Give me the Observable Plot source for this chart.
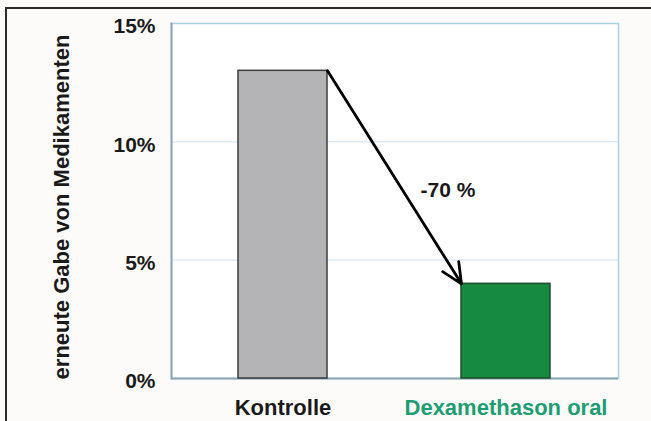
<!DOCTYPE html>
<html><head><meta charset="utf-8">
<script src="https://cdn.jsdelivr.net/npm/d3@7"></script>
<script src="https://cdn.jsdelivr.net/npm/@observablehq/plot@0.6"></script>
<style>
html,body{margin:0;padding:0;background:#fdfbf9;}
#wrap{position:relative;width:651px;height:421px;overflow:hidden;}
#wrap svg{position:absolute;left:0;top:0;}
#border{position:absolute;left:5px;top:7px;width:700px;height:500px;border-left:2px solid #2b2b2b;border-top:2px solid #2b2b2b;pointer-events:none;}
</style></head><body><div id="wrap"></div>
<script>
// data
const categories = ["Kontrolle", "Dexamethason oral"];
const values = [13, 4];
const barFills = ["#b4b4b6", "#178a41"];
const barStrokes = ["#3c3c3c", "#1f4d2c"];
const labelColors = ["#1a1a1a", "#1d9e72"];
const yTicks = [0, 5, 10, 15];
const gridTicks = [5, 10];
const yLabel = "erneute Gabe von Medikamenten";
const changeLabel = "-70 %";

const bars = categories.map((c, i) => ({cat: c, value: values[i], fill: barFills[i], stroke: barStrokes[i]}));
const change = [{from: categories[0], to: categories[1], y1: values[0], y2: values[1], label: changeLabel, ymid: (values[0] + values[1]) / 2}];

const font = "'Liberation Sans', Arial, Helvetica, sans-serif";

const chart = Plot.plot({
  width: 651,
  height: 421,
  marginLeft: 171,
  marginRight: 33,
  marginTop: 23,
  marginBottom: 43,
  style: {background: "transparent", fontFamily: font},
  x: {domain: categories, paddingInner: 0.6, paddingOuter: 0.3},
  y: {domain: [0, 15]},
  marks: [
    Plot.frame({fill: "white"}),
    Plot.ruleY(gridTicks, {stroke: "#d3e8f1", strokeWidth: 1.2}),
    Plot.frame({stroke: "#a7d2e3", strokeWidth: 1.5}),
    Plot.frame({anchor: "left", stroke: "#8ba4b3", strokeWidth: 2}),
    Plot.ruleY([0], {stroke: "#8ba4b3", strokeWidth: 2}),
    Plot.barY(bars, {x: "cat", y: "value", fill: d => d.fill, stroke: d => d.stroke, strokeWidth: 1.5}),
    Plot.arrow(change, {
      x1: "from", x2: "to", y1: "y1", y2: "y2",
      stroke: "#000", strokeWidth: 2.8, headLength: 12, headAngle: 50, bend: 0,
      render: (index, scales, vals, dims, ctx, next) => {
        const bw = scales.x.bandwidth();
        return next(index, scales, {
          ...vals,
          x1: Float64Array.from(vals.x1, v => v + bw / 2),
          x2: Float64Array.from(vals.x2, v => v - bw / 2)
        }, dims, ctx);
      }
    }),
    Plot.text(change, {text: "label", y: "ymid", frameAnchor: "middle", dx: 53, dy: 13, fontSize: 21, fontWeight: "bold", fill: "#1a1a1a"}),
    Plot.axisY(yTicks, {tickFormat: d => d + "%", tickSize: 0, tickPadding: 16, fontSize: 21, fontWeight: "bold", dy: 3, fill: "#1a1a1a", label: null}),
    Plot.axisX([categories[0]], {tickSize: 0, tickPadding: 21, fontSize: 22, fontWeight: "bold", fill: labelColors[0], label: null}),
    Plot.axisX([categories[1]], {tickSize: 0, tickPadding: 21, fontSize: 22, fontWeight: "bold", fill: labelColors[1], label: null}),
    Plot.text([yLabel], {frameAnchor: "left", textAnchor: "middle", rotate: -90, dx: -110, dy: 6, fontSize: 22, fontWeight: "bold", fill: "#1a1a1a"})
  ]
});
const wrap = document.getElementById("wrap");
wrap.appendChild(chart);
const b = document.createElement("div");
b.id = "border";
wrap.appendChild(b);
</script>
</body></html>
